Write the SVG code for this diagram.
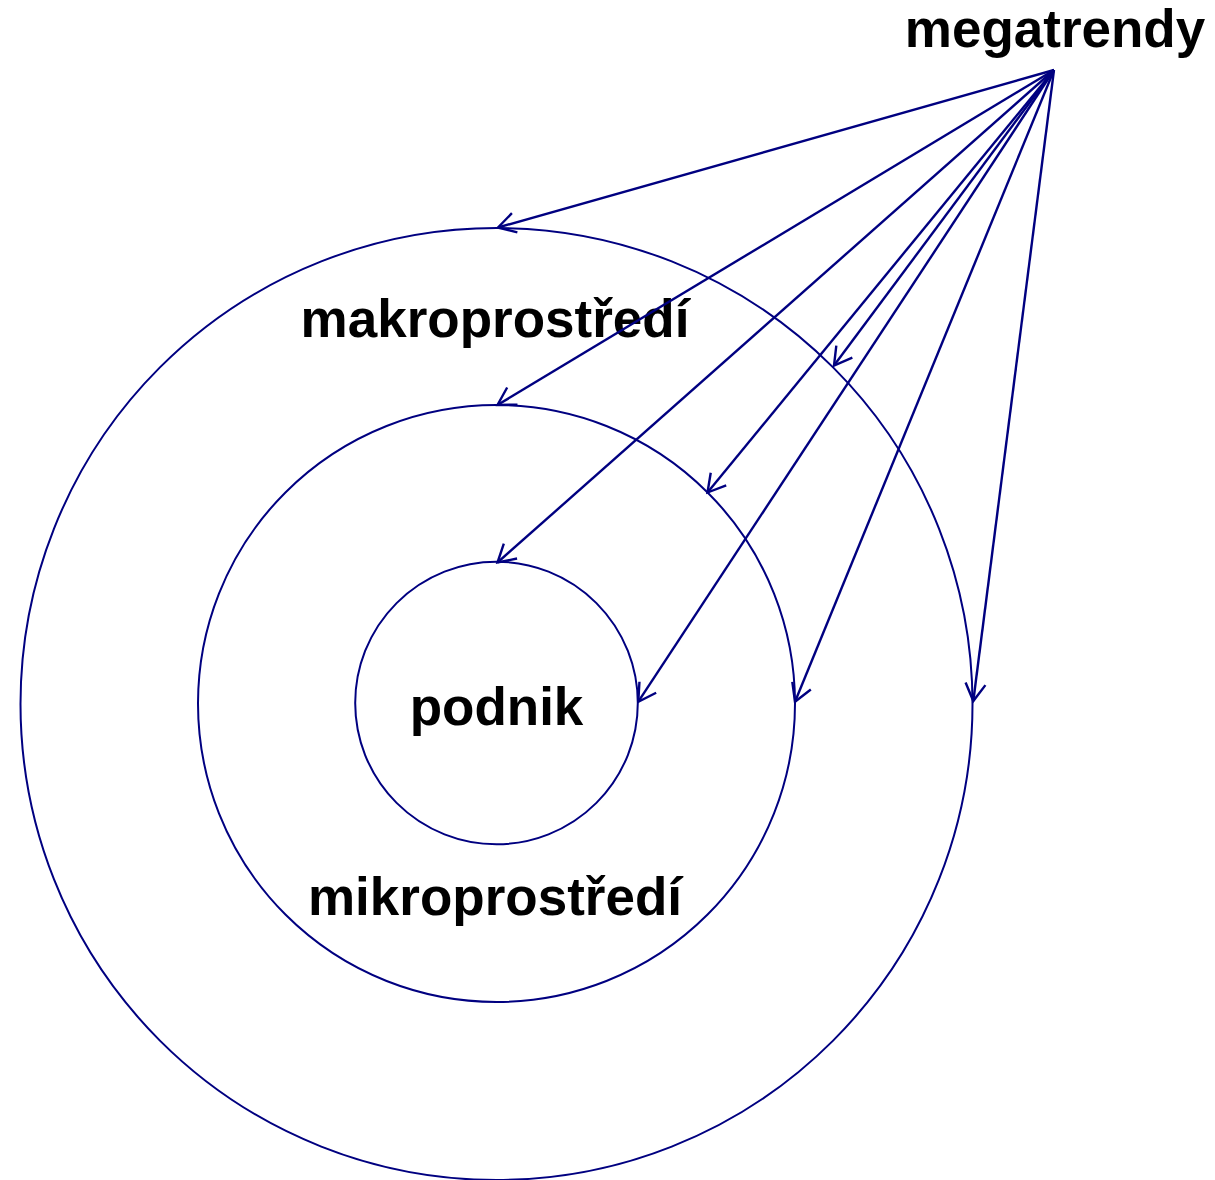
<svg xmlns="http://www.w3.org/2000/svg" width="1215" height="1180" viewBox="0 0 1215 1180">
<style>
.ring{fill:none;stroke:#000080;stroke-width:2}
.arr{fill:none;stroke:#000080;stroke-width:2.4;marker-end:url(#v)}
.lbl{font-family:"Liberation Sans",Arial,sans-serif;font-weight:bold;font-size:53px;fill:#000;text-anchor:middle}
</style>
<defs>
<marker id="v" markerUnits="userSpaceOnUse" markerWidth="50" markerHeight="50" refX="0" refY="0" orient="auto" overflow="visible" viewBox="-25 -25 50 50">
<path d="M -17.3 -10 L 0 0 L -17.3 10" fill="none" stroke="#000080" stroke-width="2.4"/>
</marker>
</defs>
<rect width="1215" height="1180" fill="#fff"/>
<g id="makroprostredi">
<circle class="ring" cx="496.5" cy="704" r="476"/>
<text class="lbl" x="495" y="337">makroprostředí</text>
</g>
<g id="mikroprostredi">
<circle class="ring" cx="496.5" cy="703.5" r="298.5"/>
<text class="lbl" x="495" y="915">mikroprostředí</text>
</g>
<g id="podnik">
<circle class="ring" cx="496.5" cy="703" r="141.3"/>
<text class="lbl" x="496.5" y="725">podnik</text>
</g>
<g id="megatrendy">
<text class="lbl" x="1055" y="47">megatrendy</text>
</g>
<g id="connectors">
<line class="arr" x1="1054" y1="70" x2="498" y2="227.5"/>
<line class="arr" x1="1054" y1="70" x2="497.5" y2="405"/>
<line class="arr" x1="1054" y1="70" x2="497.5" y2="562.5"/>
<line class="arr" x1="1054" y1="70" x2="834" y2="365.5"/>
<line class="arr" x1="1054" y1="70" x2="707.5" y2="492.5"/>
<line class="arr" x1="1054" y1="70" x2="638.3" y2="701.7"/>
<line class="arr" x1="1054" y1="70" x2="795" y2="701.7"/>
<line class="arr" x1="1054" y1="70" x2="973.3" y2="701"/>
</g>
</svg>
